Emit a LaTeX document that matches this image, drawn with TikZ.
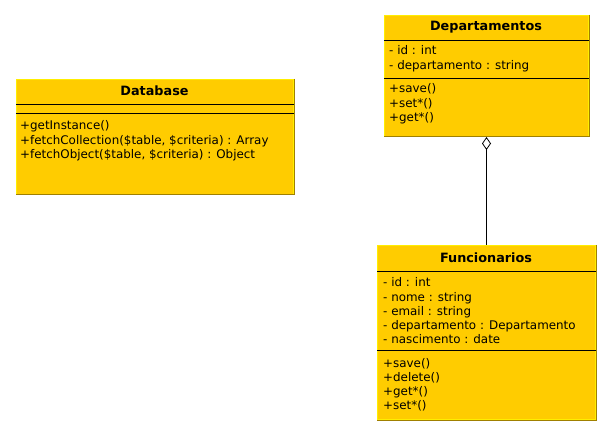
\documentclass[tikz,border=0pt]{standalone}
\usepackage{fontspec}
\setmainfont{DejaVu Sans}
\usetikzlibrary{positioning, arrows.meta}
\definecolor{umlfill}{RGB}{255,204,0}
\definecolor{umllight}{RGB}{255,238,0}
\definecolor{umlshade}{RGB}{160,128,0}

\tikzset{
  classbox/.style={draw=umllight, fill=umlfill, line width=1pt, inner sep=0pt, anchor=north west},
  classname/.style={font=\bfseries\fontsize{12.8}{14}\selectfont, inner sep=0pt},
  member/.style={font=\fontsize{11.9}{14}\selectfont, inner sep=0pt, anchor=base west},
  sepline/.style={line width=0.8pt},
  shadeline/.style={umlshade, line width=1pt}
}

\begin{document}
\begin{tikzpicture}[x=1pt, y=-1pt]
  \useasboundingbox (0,0) rectangle (612,435);
  \def\gap{14.2}

  % boxes
  \node[classbox, minimum width=277pt, minimum height=115pt] (db) at (16,79) {};
  \node[classbox, minimum width=204pt, minimum height=121pt] (dep) at (384,15) {};
  \node[classbox, minimum width=218pt, minimum height=174pt] (func) at (377,245) {};
  \foreach \b in {db,dep,func}{
    \draw[shadeline] (\b.north east) -- (\b.south east) -- (\b.south west);
  }

  % Database
  \node[classname] (dbname) at (154.5,91) {Database};
  \draw[sepline] (db.west |- 0,104) -- (db.east |- 0,104);
  \draw[sepline] (db.west |- 0,113) -- (db.east |- 0,113);
  \foreach \t [count=\i from 0] in {+getInstance(),
      {+fetchCollection(\$table, \$criteria) : Array},
      {+fetchObject(\$table, \$criteria) : Object}}
    \node[member] (dbop\i) at (20,130+\i*\gap) {\t};

  % Departamentos
  \node[classname] (depname) at (486,27) {Departamentos};
  \draw[sepline] (dep.west |- 0,40) -- (dep.east |- 0,40);
  \foreach \t [count=\i from 0] in {- id : int, - departamento : string}
    \node[member] (depattr\i) at (389,55+\i*\gap) {\t};
  \draw[sepline] (dep.west |- 0,78) -- (dep.east |- 0,78);
  \foreach \t [count=\i from 0] in {+save(), +set*(), +get*()}
    \node[member] (depop\i) at (389,93+\i*\gap) {\t};

  % Funcionarios
  \node[classname] (funcname) at (486,258) {Funcionarios};
  \draw[sepline] (func.west |- 0,271) -- (func.east |- 0,271);
  \foreach \t [count=\i from 0] in {- id : int, - nome : string, - email : string,
      - departamento : Departamento, - nascimento : date}
    \node[member] (funcattr\i) at (383,287+\i*14) {\t};
  \draw[sepline] (func.west |- 0,350) -- (func.east |- 0,350);
  \foreach \t [count=\i from 0] in {+save(), +delete(), +get*(), +set*()}
    \node[member] (funcop\i) at (383,367+\i*\gap) {\t};

  % aggregation
  \draw[line width=0.8pt, {Diamond[open, width=9pt, length=13pt]}-] (dep.south) -- (func.north);
\end{tikzpicture}
\end{document}
